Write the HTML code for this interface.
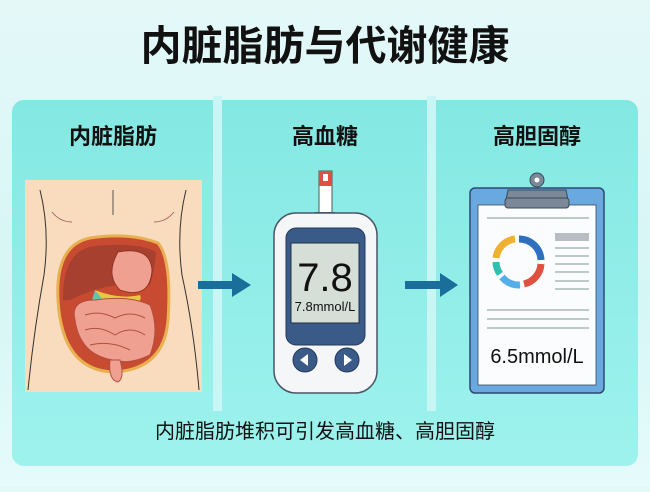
<!DOCTYPE html>
<html><head><meta charset="utf-8"><style>
html,body{margin:0;padding:0}
body{width:650px;height:487px;overflow:hidden;background:linear-gradient(180deg,#e4f8f8,#d6f6f6 60%,#e6fbfb);font-family:"Liberation Sans","Noto Sans CJK SC",sans-serif}
</style></head><body>
<svg width="650" height="487" viewBox="0 0 650 487" xmlns="http://www.w3.org/2000/svg" style="font-family:'Liberation Sans','Noto Sans CJK SC',sans-serif">
<defs>
<linearGradient id="pg" x1="0" y1="0" x2="0" y2="1"><stop offset="0" stop-color="#84e8e2"/><stop offset="1" stop-color="#9ef2ee"/></linearGradient>
</defs>
<text x="325" y="60" text-anchor="middle" font-size="41" font-weight="bold" fill="#111">内脏脂肪与代谢健康</text>
<rect x="12" y="100" width="626" height="366" rx="12" fill="url(#pg)"/>
<rect x="213" y="96" width="9" height="315" fill="#c8f6f4"/>
<rect x="427" y="96" width="9" height="315" fill="#c8f6f4"/>
<text x="113" y="144" text-anchor="middle" font-size="22" font-weight="bold" fill="#111">内脏脂肪</text>
<text x="325" y="144" text-anchor="middle" font-size="22" font-weight="bold" fill="#111">高血糖</text>
<text x="537" y="144" text-anchor="middle" font-size="22" font-weight="bold" fill="#111">高胆固醇</text>
<!-- body -->
<rect x="25" y="180" width="177" height="212" fill="#f9dcbd"/>
<path d="M40 190 Q50 230 44 275 Q34 330 28 390" stroke="#333" fill="none" stroke-width="1"/>
<path d="M186 190 Q176 230 182 275 Q194 330 199 390" stroke="#333" fill="none" stroke-width="1"/>
<path d="M113 190 V215" stroke="#333" stroke-width="0.8"/>
<path d="M52 212 Q60 222 72 222" stroke="#a66" fill="none"/>
<path d="M174 212 Q166 222 154 222" stroke="#a66" fill="none"/>
<path d="M58 300 Q55 245 90 238 Q130 232 158 243 Q172 260 168 320 Q164 370 113 372 Q62 370 58 300Z" fill="#c84a30" stroke="#e8b050" stroke-width="3"/>
<path d="M63 300 Q62 250 95 246 Q140 242 156 252 Q155 270 150 285 Q110 280 70 300Z" fill="#a84030"/>
<path d="M118 252 Q150 246 152 270 Q150 300 120 290 Q105 275 118 252Z" fill="#f0a090" stroke="#8a3020" stroke-width="0.8"/>
<path d="M95 290 Q120 300 140 295 Q145 305 115 308 Q95 305 95 290Z" fill="#e8c840"/>
<path d="M95 290 L103 300 L100 310 L92 300Z" fill="#6ac0a8"/>
<path d="M75 320 Q70 300 95 300 Q130 295 150 305 Q160 330 150 355 Q130 365 113 360 Q80 355 75 320Z" fill="#f0a090" stroke="#b05040" stroke-width="1"/>
<path d="M85 315 Q100 310 115 318 Q130 310 145 318 M85 330 Q100 325 115 335 Q130 325 145 335 M90 345 Q110 340 130 350" stroke="#b05040" fill="none" stroke-width="1"/>
<path d="M110 360 Q108 380 118 382 Q125 378 120 360Z" fill="#f0a090" stroke="#b05040" stroke-width="1"/>
<!-- arrows -->
<path d="M198 281 H232 V273 L251 285 L232 297 V289 H198Z" fill="#1a6e9a"/>
<path d="M405 281 H440 V273 L458 285 L440 297 V289 H405Z" fill="#1a6e9a"/>
<!-- meter -->
<rect x="319" y="171" width="13" height="45" fill="#fff" stroke="#555" stroke-width="1"/>
<rect x="319" y="171" width="13" height="15" fill="#e05040"/>
<rect x="323" y="174" width="5" height="7" fill="#fff"/>
<rect x="314" y="212" width="22" height="6" rx="2" fill="#3b5e8c"/>
<rect x="274" y="213" width="103" height="180" rx="22" fill="#f4f6f8" stroke="#4a5566" stroke-width="1.5"/>
<rect x="286" y="228" width="79" height="117" rx="10" fill="#3a5a88" stroke="#243a5a"/>
<rect x="291" y="243" width="68" height="80" fill="#d5dfd8" stroke="#203040"/>
<text x="325" y="291" text-anchor="middle" font-size="40" fill="#111">7.8</text>
<text x="325" y="311" text-anchor="middle" font-size="13" fill="#111">7.8mmol/L</text>
<circle cx="305" cy="360" r="12" fill="#3a5a88" stroke="#243a5a"/>
<circle cx="347" cy="360" r="12" fill="#3a5a88" stroke="#243a5a"/>
<path d="M300 360 L308 354 V366Z" fill="#fff"/>
<path d="M352 360 L344 354 V366Z" fill="#fff"/>
<!-- clipboard -->
<rect x="470" y="188" width="134" height="205" rx="5" fill="#6aa8e0" stroke="#2c4a70" stroke-width="1.5"/>
<rect x="478" y="205" width="118" height="180" fill="#fbfcfd" stroke="#3a4a5a" stroke-width="0.8"/>
<path d="M505 205 L508 190 H566 L569 205Z" fill="#7a8898" stroke="#3a4a5a"/>
<circle cx="537" cy="180" r="7" fill="#7a8898" stroke="#3a4a5a"/>
<circle cx="537" cy="180" r="2.5" fill="#fff"/>
<rect x="505" y="198" width="64" height="10" rx="3" fill="#7a8898" stroke="#3a4a5a"/>
<line x1="487" y1="218" x2="589" y2="218" stroke="#9aa" stroke-width="1.2"/>
<g fill="none" stroke-width="7">
<path d="M519 239 A22 22 0 0 1 541 260" stroke="#2f6fc0"/>
<path d="M541 264 A22 22 0 0 1 524 284" stroke="#e05040"/>
<path d="M520 285 A22 22 0 0 1 502 277" stroke="#55aee8"/>
<path d="M500 274 A22 22 0 0 1 496 262" stroke="#30c0b0"/>
<path d="M496 258 A22 22 0 0 1 515 239" stroke="#f0b030"/>
</g>
<rect x="555" y="233" width="34" height="8" fill="#b8bec4"/>
<g stroke="#9aa" stroke-width="1.2">
<line x1="555" y1="248" x2="589" y2="248"/><line x1="555" y1="256" x2="589" y2="256"/><line x1="555" y1="264" x2="589" y2="264"/><line x1="555" y1="272" x2="589" y2="272"/><line x1="555" y1="281" x2="589" y2="281"/><line x1="555" y1="289" x2="589" y2="289"/>
<line x1="487" y1="310" x2="589" y2="310"/><line x1="487" y1="319" x2="589" y2="319"/><line x1="487" y1="328" x2="589" y2="328"/>
</g>
<text x="537" y="363" text-anchor="middle" font-size="20" fill="#111">6.5mmol/L</text>
<text x="325" y="438" text-anchor="middle" font-size="20" fill="#111">内脏脂肪堆积可引发高血糖、高胆固醇</text>
</svg>
</body></html>
